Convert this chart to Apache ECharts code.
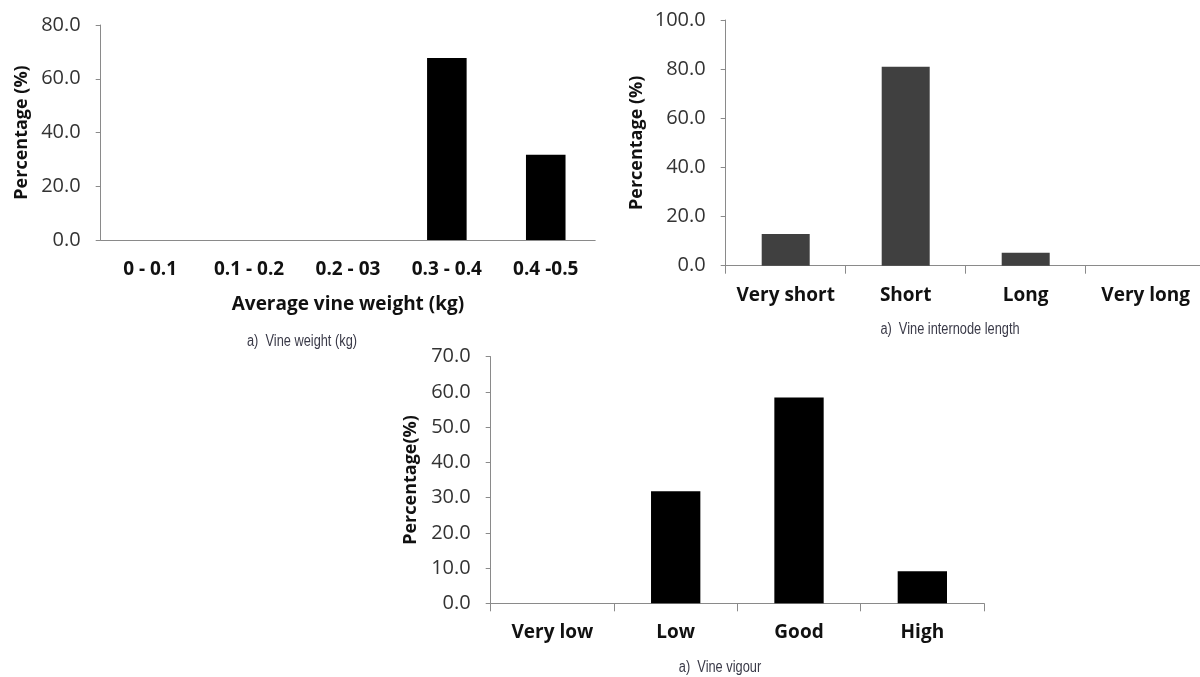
<!DOCTYPE html>
<html>
<head>
<meta charset="utf-8">
<script src="https://cdn.jsdelivr.net/npm/echarts@6/dist/echarts.min.js"></script>
<style>
html,body{margin:0;padding:0;background:#fff;}
#chart{width:1200px;height:677px;}
</style>
</head>
<body>
<div id="chart"></div>
<script>
// ---- Data ----
const weightCategories = ['0 - 0.1', '0.1 - 0.2', '0.2 - 03', '0.3 - 0.4', '0.4 -0.5'];
const weightValues = [0, 0, 0, 67.7, 31.7];
const weightTicks = [0, 20, 40, 60, 80];

const internodeCategories = ['Very short', 'Short', 'Long', 'Very long'];
const internodeValues = [12.9, 81.0, 5.3, 0];
const internodeTicks = [0, 20, 40, 60, 80, 100];

const vigourCategories = ['Very low', 'Low', 'Good', 'High'];
const vigourValues = [0, 31.8, 58.4, 9.1];
const vigourTicks = [0, 10, 20, 30, 40, 50, 60, 70];

const captions = ['a)  Vine weight (kg)', 'a)  Vine internode length', 'a)  Vine vigour'];
const xTitle1 = 'Average vine weight (kg)';

// ---- Styles ----
const FONT = '"Open Sans", "DejaVu Sans", sans-serif';
const CAP_FONT = '"Liberation Sans", "DejaVu Sans", sans-serif';
const AXIS_COLOR = '#8a8a8a';

function yAxis(gridIndex, ticks, name, gap) {
  return {
    type: 'value', gridIndex: gridIndex,
    min: ticks[0], max: ticks[ticks.length - 1], interval: ticks[1] - ticks[0],
    name: name, nameLocation: 'middle', nameRotate: 90, nameGap: gap,
    nameMoveOverlap: false,
    nameTextStyle: {fontFamily: FONT, fontWeight: 'bold', fontSize: 18, color: '#111'},
    axisLine: {show: true, lineStyle: {color: AXIS_COLOR, width: 1}},
    axisTick: {show: true, inside: false, length: 5, lineStyle: {color: AXIS_COLOR}},
    splitLine: {show: false},
    axisLabel: {margin: 20, fontFamily: FONT, fontSize: 20, color: '#333',
      formatter: v => v.toFixed(1)}
  };
}

function xAxis(gridIndex, cats, showTicks, extra) {
  return Object.assign({
    type: 'category', gridIndex: gridIndex, data: cats,
    axisLine: {show: true, lineStyle: {color: AXIS_COLOR, width: 1}},
    axisTick: {show: showTicks, length: 8, interval: 0, alignWithLabel: false, lineStyle: {color: AXIS_COLOR}},
    axisLabel: {interval: 0, margin: 20, fontFamily: FONT, fontWeight: 'bold', fontSize: 19, color: '#111'},
    splitLine: {show: false}
  }, extra || {});
}

function caption(text, x, y) {
  return {type: 'text', x: x, y: y, scaleX: 0.8, scaleY: 1,
    style: {text: text, align: 'center', verticalAlign: 'middle',
      font: '16px ' + CAP_FONT, fill: '#3a3a48'}};
}

const option = {
  backgroundColor: '#fff',
  animation: false,
  grid: [
    {left: 100.7, top: 25, width: 494.5, height: 215, outerBoundsMode: 'none', containLabel: false},
    {left: 725.7, top: 20, width: 480, height: 245.7, outerBoundsMode: 'none', containLabel: false},
    {left: 490.7, top: 356.7, width: 493.3, height: 246.6, outerBoundsMode: 'none', containLabel: false}
  ],
  xAxis: [
    xAxis(0, weightCategories, false, {
      name: xTitle1, nameLocation: 'middle', nameGap: 55, nameMoveOverlap: false,
      nameTextStyle: {fontFamily: FONT, fontWeight: 'bold', fontSize: 19, color: '#111'}
    }),
    xAxis(1, internodeCategories, true),
    xAxis(2, vigourCategories, true)
  ],
  yAxis: [
    yAxis(0, weightTicks, 'Percentage (%)', 70),
    yAxis(1, internodeTicks, 'Percentage (%)', 80),
    yAxis(2, vigourTicks, 'Percentage(%)', 71)
  ],
  series: [
    {type: 'bar', xAxisIndex: 0, yAxisIndex: 0, data: weightValues, barWidth: '40%',
     itemStyle: {color: '#000'}},
    {type: 'bar', xAxisIndex: 1, yAxisIndex: 1, data: internodeValues, barWidth: '40%',
     itemStyle: {color: '#404040'}},
    {type: 'bar', xAxisIndex: 2, yAxisIndex: 2, data: vigourValues, barWidth: '40%',
     itemStyle: {color: '#000'}}
  ],
  graphic: [
    caption(captions[0], 302, 341.5),
    caption(captions[1], 950, 330),
    caption(captions[2], 720, 668)
  ]
};

const chart = echarts.init(document.getElementById('chart'), null, {renderer: 'canvas'});
chart.setOption(option);
</script>
</body>
</html>
